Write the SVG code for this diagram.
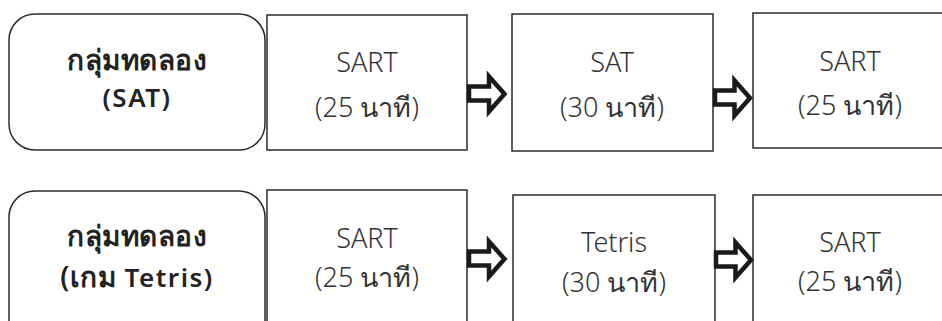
<svg xmlns="http://www.w3.org/2000/svg" width="942" height="321" viewBox="0 0 942 321">
  <style>
    .group { fill: #fff; stroke: #2b2b2b; stroke-width: 1.5; }
    .box { fill: #fff; stroke: #2b2b2b; stroke-width: 1.5; }
    .lbl { font-family: "Noto Sans", "Open Sans", sans-serif; font-size: 26px; font-weight: 600; fill: #222; text-anchor: middle; letter-spacing: 1.5px; }
    .th { font-size: 28px; letter-spacing: 0.5px; }
    .txt { font-family: "Noto Sans", "Open Sans", sans-serif; font-size: 27px; font-weight: 300; fill: #333; text-anchor: middle; }
    .arrow { fill: #fff; stroke: #1a1a1a; stroke-width: 4.5; stroke-linejoin: miter; stroke-miterlimit: 10; }
  </style>

  <!-- Row 1 -->
  <g id="group-sat">
    <rect class="group" x="9" y="14" width="256" height="136" rx="26" ry="26"/>
    <text class="lbl th" x="137" y="70">กลุ่มทดลอง</text>
    <text class="lbl" x="137" y="107">(SAT)</text>
  </g>
  <g id="sat-sart-pre">
    <rect class="box" x="267" y="15" width="200" height="135"/>
    <text class="txt" x="367" y="72">SART</text>
    <text class="txt" x="367" y="117">(25 นาที)</text>
  </g>
  <g id="sat-task">
    <rect class="box" x="512" y="14" width="201" height="137"/>
    <text class="txt" x="612" y="72">SAT</text>
    <text class="txt" x="612" y="117">(30 นาที)</text>
  </g>
  <g id="sat-sart-post">
    <rect class="box" x="753" y="13" width="195" height="135"/>
    <text class="txt" x="850" y="71">SART</text>
    <text class="txt" x="850" y="115">(25 นาที)</text>
  </g>

  <!-- Row 2 -->
  <g id="group-tetris">
    <rect class="group" x="9" y="191" width="256" height="160" rx="26" ry="26"/>
    <text class="lbl th" x="137" y="246">กลุ่มทดลอง</text>
    <text class="lbl" x="137" y="287"><tspan class="th">(เกม</tspan> Tetris)</text>
  </g>
  <g id="tetris-sart-pre">
    <rect class="box" x="267" y="190" width="200" height="160"/>
    <text class="txt" x="367" y="248">SART</text>
    <text class="txt" x="367" y="287">(25 นาที)</text>
  </g>
  <g id="tetris-task">
    <rect class="box" x="513" y="195" width="202" height="160"/>
    <text class="txt" x="614" y="252">Tetris</text>
    <text class="txt" x="614" y="292">(30 นาที)</text>
  </g>
  <g id="tetris-sart-post">
    <rect class="box" x="753" y="195" width="195" height="160"/>
    <text class="txt" x="850" y="252">SART</text>
    <text class="txt" x="850" y="291">(25 นาที)</text>
  </g>

  <!-- Block arrows between steps -->
  <g id="connectors">
    <path class="arrow" d="M469,86.5 H489 V76.5 L504.5,94 L489,111.5 V100.5 H469 Z"/>
    <path class="arrow" d="M715,90.5 H734.5 V80.5 L750,98 L734.5,115.5 V104.5 H715 Z"/>
    <path class="arrow" d="M469,251.5 H489 V241.5 L504.5,259 L489,276.5 V265.5 H469 Z"/>
    <path class="arrow" d="M716,252.5 H735.5 V242.5 L751,260 L735.5,277.5 V266.5 H716 Z"/>
  </g>
</svg>
